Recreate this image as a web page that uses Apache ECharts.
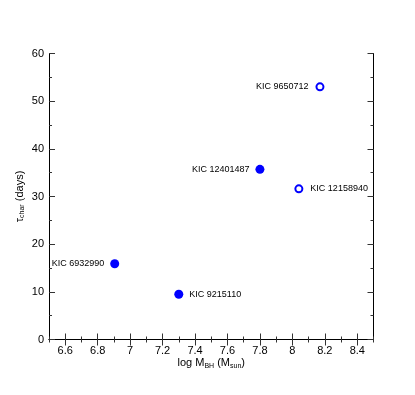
<!DOCTYPE html>
<html>
<head>
<meta charset="utf-8">
<script src="https://cdn.jsdelivr.net/npm/echarts@6/dist/echarts.min.js"></script>
<style>
	html, body { margin: 0; padding: 0; background: #fff; }
	#chart { width: 415px; height: 395px; }
</style>
</head>
<body>
<div id="chart"></div>
<script>
// filled points
var filledNames = ['KIC 12401487', 'KIC 6932990', 'KIC 9215110'];
var filledMass = [7.80, 6.905, 7.30];
var filledTau = [35.7, 15.9, 9.5];
var filledSide = ['left', 'left', 'right'];

// open points
var openNames = ['KIC 9650712', 'KIC 12158940'];
var openMass = [8.17, 8.04];
var openTau = [53.0, 31.6];
var openSide = ['left', 'right'];

var xTicks = [6.6, 6.8, 7, 7.2, 7.4, 7.6, 7.8, 8, 8.2, 8.4];
var yTicks = [0, 10, 20, 30, 40, 50, 60];

function buildPoints(names, xs, ys, sides) {
	var out = [];
	for (var i = 0; i < names.length; i++) {
		out.push({
			name: names[i],
			value: [xs[i], ys[i]],
			label: { position: sides[i] }
		});
	}
	return out;
}

var axisLine = { show: true, lineStyle: { color: '#000', width: 1 } };
var font = 'Liberation Sans, Arial, sans-serif';
var tickColor = '#333';

// minor ticks axis (every step) + major ticks axis (custom values)
function xPair(pos, withLabel) {
	var minor = {
		type: 'value', min: 6.5, max: 8.5, interval: 0.1, position: pos,
		axisLine: axisLine,
		axisTick: { inside: true, length: 3, lineStyle: { color: tickColor } },
		splitLine: { show: false },
		axisLabel: { show: false }
	};
	var major = {
		type: 'value', min: 6.5, max: 8.5, position: pos,
		axisLine: { show: false },
		axisTick: { inside: true, length: 6, customValues: xTicks, lineStyle: { color: tickColor } },
		splitLine: { show: false },
		axisLabel: { show: false }
	};
	if (withLabel) {
		major.axisLabel = {
			show: true, customValues: xTicks,
			color: '#000', fontSize: 11, fontFamily: font, margin: 6,
			formatter: function (v) { return String(Math.round(v * 10) / 10); }
		};
		major.name = '{a|log M}{s|BH}{a| (M}{s|sun}{a|)}';
		major.nameLocation = 'middle';
		major.nameGap = 17;
		major.nameMoveOverlap = false;
		major.nameTextStyle = {
			rich: {
				a: { fontSize: 11, fontFamily: font, color: '#000' },
				s: { fontSize: 7, fontFamily: font, color: '#000', padding: [6, 0, 0, 0] }
			}
		};
	}
	return [minor, major];
}

function yPair(pos, withLabel) {
	var minor = {
		type: 'value', min: 0, max: 60, interval: 5, position: pos,
		axisLine: axisLine,
		axisTick: { inside: true, length: 3, lineStyle: { color: tickColor } },
		splitLine: { show: false },
		axisLabel: { show: false }
	};
	var major = {
		type: 'value', min: 0, max: 60, position: pos,
		axisLine: { show: false },
		axisTick: { inside: true, length: 6, customValues: yTicks, lineStyle: { color: tickColor } },
		splitLine: { show: false },
		axisLabel: { show: false }
	};
	if (withLabel) {
		major.axisLabel = {
			show: true, customValues: yTicks,
			color: '#000', fontSize: 11, fontFamily: font, margin: 5
		};
		major.name = '{a|τ}{s|char}{a| (days)}';
		major.nameLocation = 'middle';
		major.nameGap = 23;
		major.nameMoveOverlap = false;
		major.nameRotate = 90;
		major.nameTextStyle = {
			rich: {
				a: { fontSize: 11, fontFamily: font, color: '#000' },
				s: { fontSize: 7, fontFamily: font, color: '#000', padding: [6, 0, 0, 0] }
			}
		};
	}
	return [minor, major];
}

var chart = echarts.init(document.getElementById('chart'));

chart.setOption({
	animation: false,
	grid: { left: 49, right: 41.5, top: 53.5, bottom: 55.5 },
	xAxis: xPair('bottom', true).concat(xPair('top', false)),
	yAxis: yPair('left', true).concat(yPair('right', false)),
	series: [
		{
			type: 'scatter',
			symbolSize: 9,
			itemStyle: { color: '#0000ff', opacity: 1 },
			label: {
				show: true, distance: 6, color: '#000', fontSize: 9, fontFamily: font,
				formatter: function (p) { return p.name; }
			},
			data: buildPoints(filledNames, filledMass, filledTau, filledSide)
		},
		{
			type: 'scatter',
			symbolSize: 7,
			itemStyle: { color: '#fff', borderColor: '#0000ff', borderWidth: 2, opacity: 1 },
			label: {
				show: true, distance: 7, color: '#000', fontSize: 9, fontFamily: font,
				formatter: function (p) { return p.name; }
			},
			data: buildPoints(openNames, openMass, openTau, openSide)
		}
	]
});
</script>
</body>
</html>
